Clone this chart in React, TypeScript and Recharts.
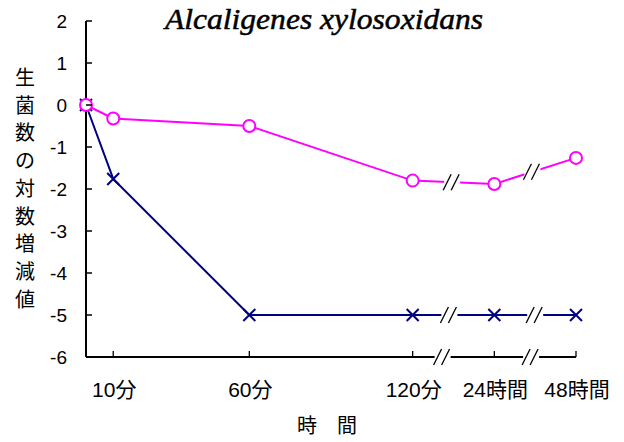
import React from 'react';
import { LineChart, Line, XAxis, YAxis, ReferenceDot } from 'recharts';

// 時間軸（24時間=150, 48時間=180 として省略表示）
const TIMES = [0, 10, 60, 120, 150, 180];
const X_TICKS = [10, 60, 120, 150, 180];
const X_TICK_LABELS = ['10分', '60分', '120分', '24時間', '48時間'];
const Y_TICKS = [-6, -5, -4, -3, -2, -1, 0, 1, 2];

// 生菌数の対数増減値
const CIRCLE_SERIES = [0, -0.32, -0.5, -1.8, -1.88, -1.26];
const CROSS_SERIES = [0, -1.76, -5, -5, -5, -5];

// 省略記号（//）の位置
const CIRCLE_BREAKS = [134.5, 164];
const CROSS_BREAKS = [133.5, 165];
const AXIS_BREAKS = [131, 163.5];

const Y_LABEL = '生菌数の対数増減値'.split('');

const W = 624;
const H = 442;
const LEFT = 86;
const RIGHT = 576;
const TOP = 21;
const BOTTOM = 357;
const Y_AXIS_W = 40;

const FONT = '"Liberation Sans", "Noto Sans CJK JP", sans-serif';
const MAGENTA = '#FF00FF';
const NAVY = '#000080';

const data = TIMES.map((t, i) => ({ t, circle: CIRCLE_SERIES[i], cross: CROSS_SERIES[i] }));

// 折れ線上の y 値（記号の位置合わせ用）
const valueAt = (series: number[], x: number) => {
  for (let i = 0; i < TIMES.length - 1; i++) {
    if (x >= TIMES[i] && x <= TIMES[i + 1]) {
      const f = (x - TIMES[i]) / (TIMES[i + 1] - TIMES[i]);
      return series[i] + f * (series[i + 1] - series[i]);
    }
  }
  return series[series.length - 1];
};

const BreakMark = (props: any) => {
  const { cx, cy } = props;
  if (cx == null || cy == null) return null;
  return (
    <g>
      <rect x={cx - 8} y={cy - 5} width={16} height={10} fill="#fff" />
      <line x1={cx - 9} y1={cy + 8} x2={cx - 1} y2={cy - 8} stroke="#000" strokeWidth={1.3} />
      <line x1={cx - 1} y1={cy + 8} x2={cx + 7} y2={cy - 8} stroke="#000" strokeWidth={1.3} />
    </g>
  );
};

const CircleDot = (props: any) => {
  const { cx, cy, index } = props;
  return <circle key={`c-${index}`} cx={cx} cy={cy} r={6} fill="#fff" stroke={MAGENTA} strokeWidth={2} />;
};

const CrossDot = (props: any) => {
  const { cx, cy, index } = props;
  const s = 6;
  return (
    <g key={`x-${index}`}>
      <line x1={cx - s} y1={cy - s} x2={cx + s} y2={cy + s} stroke={NAVY} strokeWidth={2} />
      <line x1={cx - s} y1={cy + s} x2={cx + s} y2={cy - s} stroke={NAVY} strokeWidth={2} />
    </g>
  );
};

const XTick = (props: any) => {
  const { x, payload } = props;
  const i = X_TICKS.indexOf(payload.value);
  return (
    <g>
      <line x1={x} y1={BOTTOM} x2={x} y2={BOTTOM - 6} stroke="#000" strokeWidth={1.3} />
      <text x={x + 1} y={BOTTOM + 40} textAnchor="middle" fontSize={21} fontFamily={FONT} fill="#000">
        {X_TICK_LABELS[i]}
      </text>
    </g>
  );
};

const YTick = (props: any) => {
  const { y, payload } = props;
  return (
    <g>
      <line x1={LEFT} y1={y} x2={LEFT + 6} y2={y} stroke="#000" strokeWidth={1.5} />
      <text x={LEFT - 19} y={y + 7} textAnchor="end" fontSize={19} fontFamily={FONT} fill="#000">
        {payload.value}
      </text>
    </g>
  );
};

export default function App() {
  return (
    <div style={{ position: 'absolute', left: 0, top: 0, width: W, height: H, background: '#fff' }}>
      <LineChart
        width={W}
        height={H}
        data={data}
        margin={{ top: TOP, right: W - RIGHT, bottom: H - BOTTOM - 30, left: LEFT - Y_AXIS_W }}
      >
        <XAxis
          dataKey="t"
          type="number"
          domain={[0, 180]}
          ticks={X_TICKS}
          tick={<XTick />}
          tickLine={false}
          axisLine={{ stroke: '#000', strokeWidth: 2 }}
          height={30}
          interval={0}
        />
        <YAxis
          type="number"
          domain={[-6, 2]}
          ticks={Y_TICKS}
          tick={<YTick />}
          tickLine={false}
          axisLine={{ stroke: '#000', strokeWidth: 2 }}
          width={Y_AXIS_W}
          interval={0}
        />
        <Line
          dataKey="cross"
          stroke={NAVY}
          strokeWidth={2}
          dot={<CrossDot />}
          activeDot={false}
          isAnimationActive={false}
        />
        <Line
          dataKey="circle"
          stroke={MAGENTA}
          strokeWidth={2}
          dot={<CircleDot />}
          activeDot={false}
          isAnimationActive={false}
        />
        {CIRCLE_BREAKS.map((bx) => (
          <ReferenceDot key={`cb-${bx}`} x={bx} y={valueAt(CIRCLE_SERIES, bx)} shape={<BreakMark />} ifOverflow="visible" />
        ))}
        {CROSS_BREAKS.map((bx) => (
          <ReferenceDot key={`xb-${bx}`} x={bx} y={valueAt(CROSS_SERIES, bx)} shape={<BreakMark />} ifOverflow="visible" />
        ))}
        {AXIS_BREAKS.map((bx) => (
          <ReferenceDot key={`ab-${bx}`} x={bx} y={-6} shape={<BreakMark />} ifOverflow="visible" />
        ))}
        <text
          x={324}
          y={29}
          textAnchor="middle"
          fontSize={30}
          fontStyle="italic"
          textLength={318}
          lengthAdjust="spacingAndGlyphs"
          fontFamily='"Liberation Serif", "DejaVu Serif", serif'
          fill="#000"
          stroke="#000"
          strokeWidth={0.5}
        >
          Alcaligenes xylosoxidans
        </text>
        {Y_LABEL.map((ch, i) => (
          <text key={`yl-${i}`} x={25} y={85 + i * 27.7} textAnchor="middle" fontSize={20} fontFamily={FONT} fill="#000">
            {ch}
          </text>
        ))}
        <text x={307} y={433} textAnchor="middle" fontSize={20} fontFamily={FONT} fill="#000">時</text>
        <text x={347} y={433} textAnchor="middle" fontSize={20} fontFamily={FONT} fill="#000">間</text>
      </LineChart>
    </div>
  );
}
